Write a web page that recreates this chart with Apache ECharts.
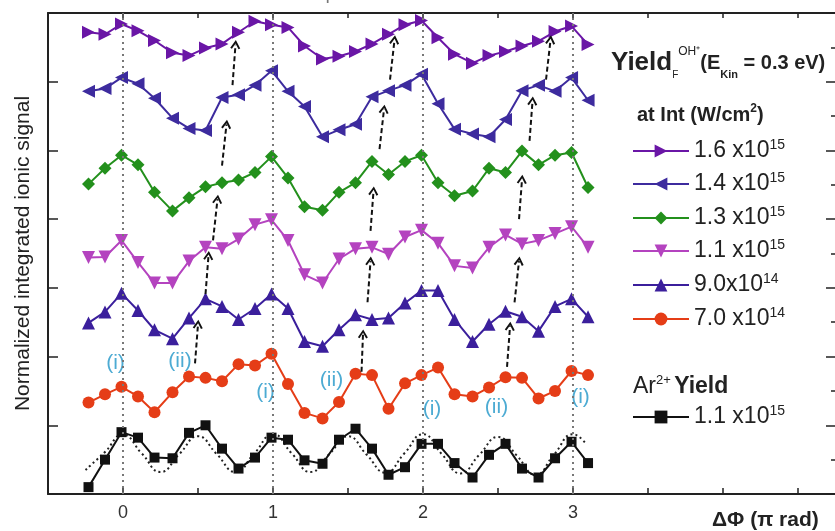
<!DOCTYPE html>
<html>
<head>
<meta charset="utf-8">
<script src="https://cdn.jsdelivr.net/npm/echarts@6/dist/echarts.min.js"></script>
<style>
  html, body { margin: 0; padding: 0; background: #fff; }
  #chart { width: 835px; height: 531px; }
</style>
</head>
<body>
<div id="chart"></div>
<script>
// phase difference (pi rad) of every measured point
const phase = [-0.23, -0.12, -0.01, 0.10, 0.21, 0.33, 0.44, 0.55, 0.66, 0.77, 0.88, 0.99, 1.10, 1.21, 1.33, 1.44,
  1.55, 1.66, 1.77, 1.88, 1.99, 2.10, 2.21, 2.33, 2.44, 2.55, 2.66, 2.77, 2.88, 2.99, 3.10];

// normalized signal, curves stacked with offsets
const int16 = [6.72, 6.69, 6.84, 6.74, 6.60, 6.42, 6.38, 6.49, 6.55, 6.72, 6.88, 6.83, 6.79, 6.52, 6.33, 6.37,
  6.44, 6.55, 6.69, 6.83, 6.89, 6.64, 6.40, 6.27, 6.38, 6.44, 6.52, 6.59, 6.73, 6.81, 6.54];
const int14 = [5.86, 5.90, 6.06, 5.97, 5.76, 5.47, 5.32, 5.29, 5.77, 5.81, 5.95, 6.16, 5.86, 5.64, 5.20, 5.30,
  5.38, 5.78, 5.87, 5.95, 6.11, 5.68, 5.31, 5.24, 5.20, 5.45, 5.87, 5.95, 5.86, 6.06, 5.73];
const int13 = [4.51, 4.74, 4.93, 4.79, 4.39, 4.12, 4.31, 4.47, 4.53, 4.57, 4.68, 4.91, 4.60, 4.18, 4.13, 4.39,
  4.53, 4.84, 4.65, 4.84, 4.93, 4.53, 4.34, 4.41, 4.74, 4.68, 4.99, 4.79, 4.93, 4.97, 4.46];
const int11 = [3.44, 3.45, 3.69, 3.37, 3.07, 3.07, 3.39, 3.59, 3.57, 3.71, 3.92, 3.99, 3.69, 3.19, 3.07, 3.42,
  3.57, 3.59, 3.49, 3.74, 3.84, 3.65, 3.32, 3.29, 3.59, 3.77, 3.64, 3.69, 3.79, 3.89, 3.59];
const int09 = [2.49, 2.65, 2.92, 2.67, 2.39, 2.26, 2.56, 2.84, 2.73, 2.54, 2.70, 2.91, 2.70, 2.22, 2.15, 2.39,
  2.61, 2.54, 2.56, 2.78, 2.96, 2.96, 2.54, 2.22, 2.47, 2.66, 2.58, 2.37, 2.73, 2.84, 2.58];
const int07 = [1.33, 1.45, 1.56, 1.42, 1.19, 1.48, 1.71, 1.69, 1.64, 1.89, 1.87, 2.04, 1.60, 1.18, 1.10, 1.34,
  1.75, 1.73, 1.24, 1.61, 1.73, 1.84, 1.45, 1.42, 1.55, 1.70, 1.69, 1.39, 1.50, 1.79, 1.73];
const ar2 = [0.10, 0.50, 0.90, 0.82, 0.53, 0.52, 0.89, 1.00, 0.66, 0.37, 0.53, 0.82, 0.79, 0.49, 0.44, 0.79,
  0.95, 0.66, 0.28, 0.39, 0.73, 0.73, 0.45, 0.24, 0.57, 0.73, 0.37, 0.24, 0.52, 0.76, 0.45];

// dotted fit through the Ar2+ yield
const fitX = [-0.25, -0.125, 0, 0.125, 0.25, 0.375, 0.5, 0.625, 0.75, 0.875, 1, 1.125, 1.25, 1.375, 1.5,
  1.625, 1.75, 1.875, 2, 2.125, 2.25, 2.375, 2.5, 2.625, 2.75, 2.875, 3, 3.09];
const fitY = [0.35, 0.60, 0.86, 0.59, 0.32, 0.58, 0.84, 0.58, 0.32, 0.59, 0.87, 0.59, 0.32, 0.58, 0.84,
  0.57, 0.31, 0.59, 0.87, 0.58, 0.30, 0.57, 0.83, 0.56, 0.28, 0.58, 0.87, 0.72];

// peak markers (i) / (ii)
const noteText = ['(i)', '(ii)', '(i)', '(ii)', '(i)', '(ii)', '(i)'];
const noteX = [-0.05, 0.38, 0.95, 1.39, 2.06, 2.49, 3.05];
const noteY = [1.90, 1.93, 1.48, 1.65, 1.24, 1.27, 1.41];

// dashed arrows following peak (ii) upwards
const arrowFrom = [[0.48, 1.90], [0.55, 2.91], [0.60, 3.69], [0.66, 4.78], [0.73, 5.95],
  [1.59, 1.78], [1.63, 2.79], [1.65, 3.83], [1.71, 5.02], [1.78, 6.03],
  [2.56, 1.85], [2.61, 2.79], [2.64, 4.00], [2.71, 5.14], [2.82, 6.03]];
const arrowTo = [[0.50, 2.47], [0.57, 3.47], [0.63, 4.29], [0.69, 5.38], [0.75, 6.54],
  [1.60, 2.33], [1.65, 3.39], [1.67, 4.41], [1.74, 5.60], [1.81, 6.61],
  [2.58, 2.44], [2.64, 3.39], [2.66, 4.58], [2.73, 5.72], [2.85, 6.61]];

const xTicks = [0, 1, 2, 3];

const FONT = 'Liberation Sans, Arial, sans-serif';

const curves = [
  { name: '1.6 x10^15', data: int16, color: '#6a16a6', symbol: 'triangle', rot: -90, size: 13 },
  { name: '1.4 x10^15', data: int14, color: '#3d2b9e', symbol: 'triangle', rot: 90, size: 13 },
  { name: '1.3 x10^15', data: int13, color: '#23901c', symbol: 'diamond', rot: 0, size: 13 },
  { name: '1.1 x10^15', data: int11, color: '#b443bf', symbol: 'triangle', rot: 180, size: 13 },
  { name: '9.0x10^14', data: int09, color: '#3b1f9c', symbol: 'triangle', rot: 0, size: 13 },
  { name: '7.0 x10^14', data: int07, color: '#e53d17', symbol: 'circle', rot: 0, size: 12 },
  { name: 'Ar 1.1 x10^15', data: ar2, color: '#111111', symbol: 'rect', rot: 0, size: 10 }
];

function pairs(xs, ys) {
  let arr = [];
  for (let i = 0; i < xs.length; i++) {
    arr.push([xs[i], ys[i]]);
  }
  return arr;
}

let series = curves.map(c => ({
  name: c.name,
  type: 'line',
  data: pairs(phase, c.data),
  symbol: c.symbol,
  symbolSize: c.size,
  symbolRotate: c.rot,
  showAllSymbol: true,
  lineStyle: { color: c.color, width: 2 },
  itemStyle: { color: c.color },
  emphasis: { disabled: true },
  z: 3
}));

series.push({
  name: 'fit',
  type: 'line',
  data: pairs(fitX, fitY),
  smooth: true,
  symbol: 'none',
  lineStyle: { color: '#222', width: 2, type: [2, 3] },
  emphasis: { disabled: true },
  z: 2,
  markLine: {
    silent: true,
    symbol: 'none',
    label: { show: false },
    lineStyle: { color: '#777', width: 2, type: [2, 4] },
    data: xTicks.map(v => ({ xAxis: v }))
  }
});

let notes = [];
for (let i = 0; i < noteText.length; i++) {
  notes.push([noteX[i], noteY[i], noteText[i]]);
}
let arrows = [];
for (let i = 0; i < arrowFrom.length; i++) {
  arrows.push([{ coord: arrowFrom[i] }, { coord: arrowTo[i] }]);
}

series.push({
  name: 'notes',
  type: 'scatter',
  data: notes,
  symbolSize: 1,
  itemStyle: { color: 'rgba(0,0,0,0)' },
  label: {
    show: true,
    position: 'inside',
    formatter: p => p.data[2],
    color: '#2196c8',
    fontSize: 21,
    fontFamily: FONT
  },
  emphasis: { disabled: true },
  z: 4,
  markLine: {
    silent: true,
    symbol: ['none', 'path://M5,0 L10,8 L8.3,9 L5,3.4 L1.7,9 L0,8 Z'],
    symbolSize: [10, 9],
    label: { show: false },
    lineStyle: { color: '#111', width: 2, type: [5, 3] },
    data: arrows
  }
});

function legendText(name) {
  let s = name.replace(/^Ar /, '').split('^');
  return '{n|' + s[0] + '}{s|' + s[1] + '}';
}

const legendRich = {
  n: { fontSize: 23, lineHeight: 26, color: '#222', fontFamily: FONT },
  s: { fontSize: 14, lineHeight: 14, verticalAlign: 'top', color: '#222', fontFamily: FONT }
};

const rowTops = [138, 171, 205, 238, 272, 306, 404];
let legends = curves.map((c, i) => ({
  data: [c.name],
  left: 632,
  top: rowTops[i],
  padding: 0,
  itemWidth: 56,
  itemHeight: 16,
  selectedMode: false,
  formatter: legendText,
  textStyle: { rich: legendRich }
}));

const axisLine = { onZero: false, lineStyle: { color: '#222', width: 2 } };

const option = {
  animation: false,
  textStyle: { fontFamily: FONT },
  legend: legends,
  // the frame runs past the right edge of the picture
  grid: { left: 48, top: 13, width: 800, height: 481, outerBoundsMode: 'none' },
  xAxis: [
    {
      type: 'value', position: 'bottom', min: -0.5, max: 4.833, interval: 0.5,
      axisLine: axisLine,
      axisTick: { inside: true, length: 6, lineStyle: { color: '#222', width: 1.5 } },
      axisLabel: {
        color: '#333', fontSize: 18, margin: 10, fontFamily: FONT,
        formatter: v => (xTicks.indexOf(v) >= 0 ? String(v) : '')
      },
      splitLine: { show: false }
    },
    {
      type: 'value', position: 'top', min: -0.5, max: 4.833, interval: 0.5,
      axisLine: axisLine,
      axisTick: { inside: true, length: 5, lineStyle: { color: '#222', width: 1.5 } },
      axisLabel: { show: false },
      splitLine: { show: false }
    }
  ],
  yAxis: [
    {
      type: 'value', position: 'left', min: 0, max: 7, interval: 1,
      name: 'Normalized integrated ionic signal',
      nameLocation: 'middle', nameGap: 14, nameRotate: 90,
      nameTextStyle: { fontSize: 21, color: '#222', fontFamily: FONT },
      axisLine: axisLine,
      axisTick: { inside: true, length: 10, lineStyle: { color: '#222', width: 1.5 } },
      axisLabel: { show: false },
      splitLine: { show: false }
    },
    {
      type: 'value', position: 'right', min: 0, max: 7, interval: 1,
      axisLine: axisLine,
      axisTick: { inside: true, length: 22, lineStyle: { color: '#222', width: 1.5 } },
      minorTick: { show: true, splitNumber: 2, length: 17, lineStyle: { color: '#222', width: 1.5 } },
      axisLabel: { show: false },
      splitLine: { show: false }
    }
  ],
  graphic: [
    {
      type: 'text', x: 611, y: 63,
      style: {
        text: '{y|Yield}{f|F}{o|OH⁺}{e|(E}{k|Kin}{e| = 0.3 eV)}',
        verticalAlign: 'middle',
        rich: {
          y: { fontSize: 26, fontWeight: 'bold', lineHeight: 34, fill: '#222', fontFamily: FONT },
          f: { fontSize: 10, lineHeight: 12, verticalAlign: 'bottom', fill: '#222', fontFamily: FONT },
          o: { fontSize: 12, lineHeight: 14, verticalAlign: 'top', fill: '#222', fontFamily: FONT },
          e: { fontSize: 20, fontWeight: 'bold', lineHeight: 34, fill: '#222', fontFamily: FONT },
          k: { fontSize: 11, fontWeight: 'bold', lineHeight: 12, verticalAlign: 'bottom', fill: '#222', fontFamily: FONT }
        }
      }
    },
    {
      type: 'text', x: 637, y: 115,
      style: {
        text: '{t|at Int (W/cm}{s|2}{t|)}',
        verticalAlign: 'middle',
        rich: {
          t: { fontSize: 20, fontWeight: 'bold', lineHeight: 24, fill: '#222', fontFamily: FONT },
          s: { fontSize: 12, fontWeight: 'bold', lineHeight: 12, verticalAlign: 'top', fill: '#222', fontFamily: FONT }
        }
      }
    },
    {
      type: 'text', x: 633, y: 387,
      style: {
        text: '{a|Ar}{s|2+} {b|Yield}',
        verticalAlign: 'middle',
        rich: {
          a: { fontSize: 23, lineHeight: 26, fill: '#222', fontFamily: FONT },
          s: { fontSize: 13, lineHeight: 13, verticalAlign: 'top', fill: '#222', fontFamily: FONT },
          b: { fontSize: 23, fontWeight: 'bold', lineHeight: 26, fill: '#222', fontFamily: FONT }
        }
      }
    },
    {
      type: 'text', x: 712, y: 520,
      style: {
        text: 'ΔΦ (π rad)', verticalAlign: 'middle',
        font: 'bold 21px ' + FONT, fill: '#222'
      }
    },
    {
      type: 'text', x: 60, y: 3,
      style: {
        text: 'λ =       1200 nm  +  320 nm   φ =  0.00', verticalAlign: 'bottom',
        font: '20px ' + FONT, fill: '#777'
      }
    }
  ],
  series: series
};

let myChart = echarts.init(document.getElementById('chart'));
myChart.setOption(option);
</script>
</body>
</html>
